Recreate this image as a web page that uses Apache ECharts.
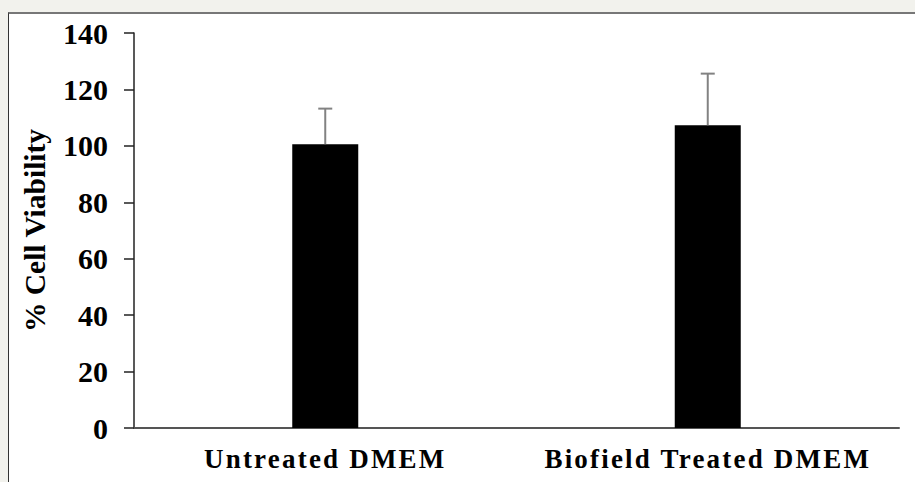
<!DOCTYPE html>
<html>
<head>
<meta charset="utf-8">
<script src="https://cdn.jsdelivr.net/npm/echarts@6/dist/echarts.min.js"></script>
<style>
  html, body { margin: 0; padding: 0; background: #f2f2ed; overflow: hidden; }
  #chart {
    position: absolute; left: 8px; top: 12px;
    width: 906px; height: 468px;
    background: #fff;
    border-left: 1px solid #333;
    border-top: 2px solid #777;
  }
  /* category labels are spread wider in the original */
  #chart text[fill="#010101"], #chart text[fill="rgb(1,1,1)"] { letter-spacing: 2.2px; }
</style>
</head>
<body>
<div id="chart"></div>
<script>
var categories = ['Untreated DMEM', 'Biofield Treated DMEM'];
var viability = [100.6, 107.3];
var errUpper = [12.6, 18.3];
var yTicks = { min: 0, max: 140, interval: 20 };

var myChart = echarts.init(document.getElementById('chart'), null, { renderer: 'svg' });

// error bars: only the upper whisker shows above the bar
var errData = categories.map(function (c, i) {
    return [i, viability[i], viability[i] + errUpper[i]];
});

var option = {
    animation: false,
    grid: { left: 125, right: 16, top: 19, bottom: 54, containLabel: false, outerBoundsMode: 'none' },
    xAxis: {
        type: 'category',
        data: categories,
        axisLine: { lineStyle: { color: '#555', width: 2 } },
        axisTick: { show: false },
        axisLabel: {
            color: '#010101',
            fontFamily: 'Liberation Serif',
            fontWeight: 'bold',
            fontSize: 27,
            margin: 17
        }
    },
    yAxis: {
        type: 'value',
        min: yTicks.min,
        max: yTicks.max,
        interval: yTicks.interval,
        name: '% Cell Viability',
        nameLocation: 'middle',
        nameRotate: 90,
        nameGap: 84,
        nameTextStyle: {
            color: '#000',
            fontFamily: 'Liberation Serif',
            fontWeight: 'bold',
            fontSize: 29.5
        },
        axisLine: { show: true, lineStyle: { color: '#222', width: 1.5 } },
        axisTick: { show: true, length: 10, lineStyle: { color: '#222', width: 1.5 } },
        splitLine: { show: false },
        axisLabel: {
            color: '#000',
            fontFamily: 'Liberation Serif',
            fontWeight: 'bold',
            fontSize: 30,
            margin: 26
        }
    },
    series: [
        {
            type: 'bar',
            data: viability,
            barWidth: 66,
            itemStyle: { color: '#000' }
        },
        {
            type: 'custom',
            z: 5,
            data: errData,
            renderItem: function (params, api) {
                var base = api.coord([api.value(0), api.value(1)]);
                var top = api.coord([api.value(0), api.value(2)]);
                var half = 7;
                var st = { stroke: '#828282', lineWidth: 2 };
                return {
                    type: 'group',
                    children: [
                        { type: 'line', shape: { x1: base[0], y1: base[1], x2: top[0], y2: top[1] }, style: st },
                        { type: 'line', shape: { x1: top[0] - half, y1: top[1], x2: top[0] + half, y2: top[1] }, style: st }
                    ]
                };
            }
        }
    ]
};

myChart.setOption(option);
</script>
</body>
</html>
